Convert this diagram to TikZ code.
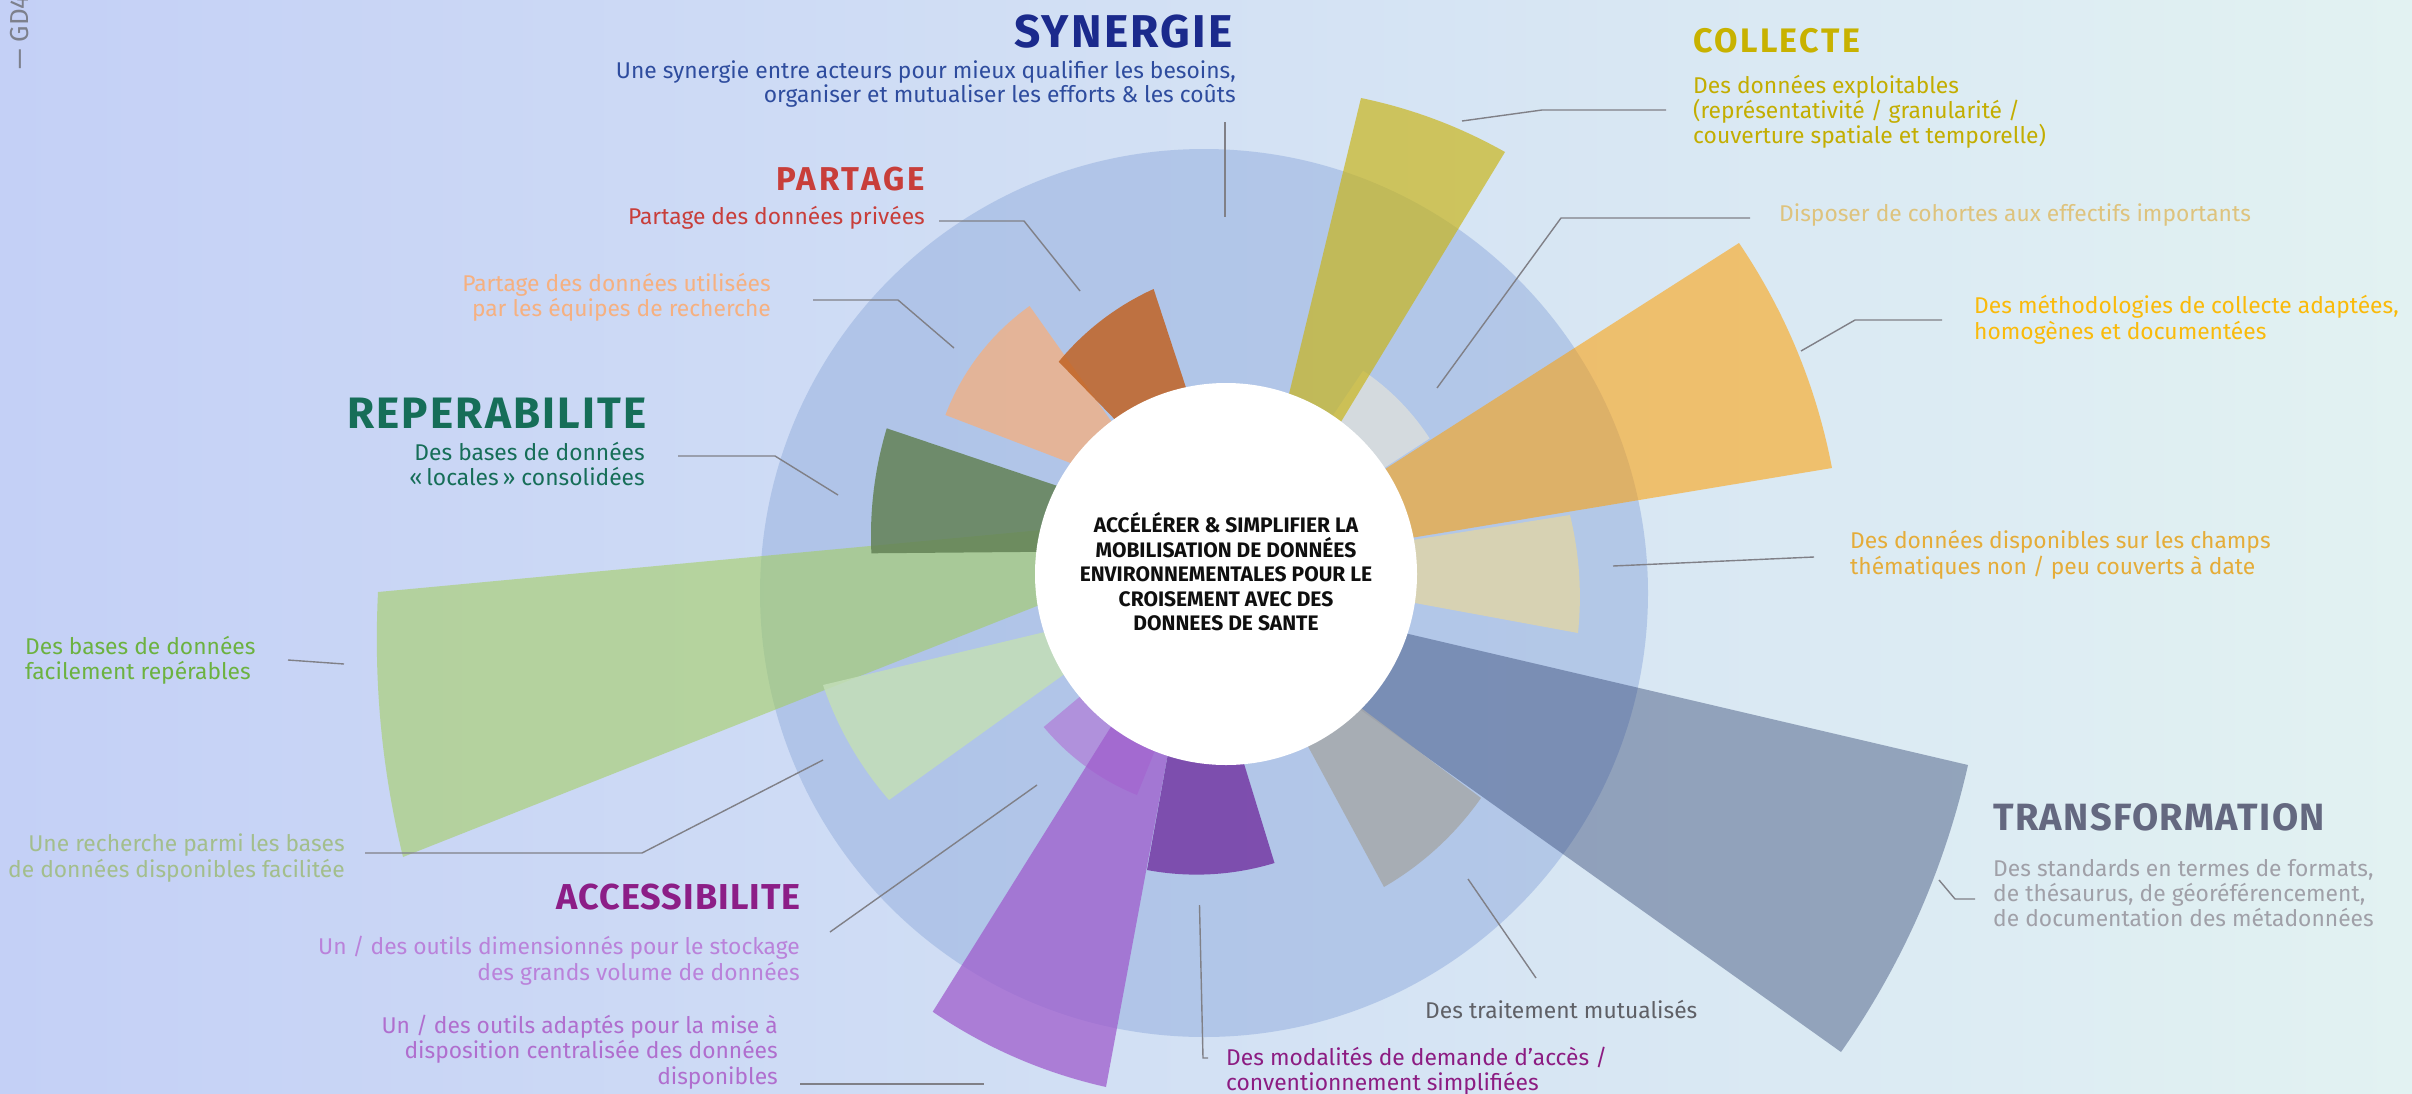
\documentclass[tikz,border=0pt]{standalone}
\usepackage{fontspec}
\setmainfont{Fira Sans}
\definecolor{bgL}{RGB}{196,208,246}
\definecolor{bgR}{RGB}{226,242,242}
\definecolor{discC}{RGB}{160,184,226}
\definecolor{cYel}{RGB}{201,180,20}
\definecolor{cLGray}{RGB}{218,222,221}
\definecolor{cOra}{RGB}{255,160,5}
\definecolor{cBei}{RGB}{222,212,170}
\definecolor{cSla}{RGB}{37,57,105}
\definecolor{cGra}{RGB}{166,169,171}
\definecolor{cDPur}{RGB}{117,58,165}
\definecolor{cBPur}{RGB}{159,93,205}
\definecolor{cLPur}{RGB}{176,136,218}
\definecolor{cPGre}{RGB}{195,222,183}
\definecolor{cBGre}{RGB}{162,206,88}
\definecolor{cDGre}{RGB}{99,130,86}
\definecolor{cPea}{RGB}{237,178,138}
\definecolor{cDOra}{RGB}{193,99,36}
\definecolor{tSyn}{RGB}{27,42,140}
\definecolor{tSynD}{RGB}{46,76,158}
\definecolor{tPar}{RGB}{200,62,58}
\definecolor{tPea}{RGB}{246,176,128}
\definecolor{tRep}{RGB}{22,110,88}
\definecolor{tBGre}{RGB}{108,178,64}
\definecolor{tRech}{RGB}{163,190,140}
\definecolor{tAcc}{RGB}{140,30,135}
\definecolor{tSto}{RGB}{186,130,218}
\definecolor{tMise}{RGB}{176,110,206}
\definecolor{tMod}{RGB}{140,28,130}
\definecolor{tTrt}{RGB}{95,96,102}
\definecolor{tTra}{RGB}{100,104,128}
\definecolor{tTraD}{RGB}{160,160,168}
\definecolor{tCha}{RGB}{229,172,56}
\definecolor{tMet}{RGB}{250,186,10}
\definecolor{tCoh}{RGB}{222,195,125}
\definecolor{tCol}{RGB}{200,178,0}
\definecolor{tColD}{RGB}{195,173,0}
\definecolor{leadC}{RGB}{128,128,135}
\definecolor{gdC}{RGB}{125,128,140}
\newcommand{\petal}[5]{\fill[#5] (#1) -- (#2) to[bend right=#4, looseness=0.87] (#3) -- cycle;}
\begin{document}
\begin{tikzpicture}[x=1pt,y=-1pt,
  lab/.style={inner sep=0pt, font=\fontsize{22.8}{25}\selectfont},
  ttl/.style 2 args={inner sep=0pt, font=\fontsize{#1}{#1}\selectfont\bfseries\addfontfeature{LetterSpace=#2}},
  ctr/.style={inner sep=0pt, anchor=base, font=\fontsize{21}{24}\selectfont\bfseries, text={rgb,255:red,15;green,15;blue,15}},
  lead/.style={draw=leadC, line width=1.4pt}]
\useasboundingbox (0,0) rectangle (2412,1093);
\shade[left color=bgL, right color=bgR] (0,0) rectangle (2412,1093);
% big disc
\fill[discC, fill opacity=0.65] (1204,593) circle[radius=444];
% petals
\petal{1230,568}{1429.6,438.4}{1363.1,370.7}{11.5}{cLGray, fill opacity=0.85}
\petal{1243,583}{1505,152}{1361,98}{8.8}{cYel, fill opacity=0.67}
\petal{1230,568}{1832,468}{1739,243}{11.6}{cOra, fill opacity=0.56}
\petal{1230,569}{1578,633}{1570,515}{9.7}{cBei, fill opacity=0.85}
\petal{1178,580}{1841,1052}{1968,765}{11.1}{cSla, fill opacity=0.4}
\petal{1237,615}{1384,887}{1481,798}{12.3}{cGra, fill opacity=0.85}
\petal{1287,507}{378,592}{403,857}{8.2}{cBGre, fill opacity=0.55}
\petal{1247,550}{886.7,428.3}{871.4,553.3}{9.6}{cDGre, fill opacity=0.85}
\petal{1162,604}{823,685}{889,800}{11}{cPGre, fill opacity=0.85}
\petal{1167,500}{1029.6,306}{945.4,415}{16.9}{cPea, fill opacity=0.85}
\petal{1238,546}{1153.6,289}{1058.7,361.7}{13}{cDOra, fill opacity=0.85}
\petal{1226,574}{1043.7,727}{1137,795}{14}{cLPur, fill opacity=0.85}
\petal{1199,586}{932.7,1011.7}{1106,1087}{10.75}{cBPur, fill opacity=0.75}
\petal{1195,604}{1147,870}{1274.5,863}{13.7}{cDPur, fill opacity=0.85}
% white centre
\node[circle, fill=white, minimum size=382pt, inner sep=0pt] (core) at (1226,574) {};
\node[ctr] (c1) at (1226,532) {ACCÉLÉRER \& SIMPLIFIER LA};
\node[ctr] (c2) at (1226,557) {MOBILISATION DE DONNÉES};
\node[ctr] (c3) at (1226,581) {ENVIRONNEMENTALES POUR LE};
\node[ctr] (c4) at (1226,606) {CROISEMENT AVEC DES};
\node[ctr] (c5) at (1226,630) {DONNEES DE SANTE};
% leader coordinates
\coordinate (a1) at (1225,122); \coordinate (a2) at (1225,217);
\coordinate (b1) at (939,221); \coordinate (b2) at (1024,221); \coordinate (b3) at (1080,291);
\coordinate (d1) at (813,300); \coordinate (d2) at (898,300); \coordinate (d3) at (954,348);
\coordinate (e1) at (1462,121); \coordinate (e2) at (1542,110); \coordinate (e3) at (1666,110);
\coordinate (f1) at (1437,388); \coordinate (f2) at (1561,218); \coordinate (f3) at (1750,218);
\coordinate (g1) at (1801,351); \coordinate (g2) at (1855,320); \coordinate (g3) at (1942,320);
\coordinate (h1) at (1613,566); \coordinate (h2) at (1814,557);
\coordinate (i1) at (1939,880); \coordinate (i2) at (1955,899); \coordinate (i3) at (1975,899);
\coordinate (j1) at (1468,879); \coordinate (j2) at (1536,978);
\coordinate (k1) at (1199.5,905); \coordinate (k2) at (1203,1058); \coordinate (k3) at (1208,1058);
\coordinate (l1) at (800,1084); \coordinate (l2) at (984,1084);
\coordinate (m1) at (830,932); \coordinate (m2) at (1037,785);
\coordinate (n1) at (365,853); \coordinate (n2) at (642,853); \coordinate (n3) at (823,760);
\coordinate (o1) at (288,660); \coordinate (o2) at (344,664);
\coordinate (p1) at (678,456); \coordinate (p2) at (775,456); \coordinate (p3) at (838,495);
\draw[lead] (a1) -- (a2);
\draw[lead] (b1) -- (b2) -- (b3);
\draw[lead] (d1) -- (d2) -- (d3);
\draw[lead] (e1) -- (e2) -- (e3);
\draw[lead] (f1) -- (f2) -- (f3);
\draw[lead] (g1) -- (g2) -- (g3);
\draw[lead] (h1) -- (h2);
\draw[lead] (i1) -- (i2) -- (i3);
\draw[lead] (j1) -- (j2);
\draw[lead] (k1) -- (k2) -- (k3);
\draw[lead] (l1) -- (l2);
\draw[lead] (m1) -- (m2);
\draw[lead] (n1) -- (n2) -- (n3);
\draw[lead] (o1) -- (o2);
\draw[lead] (p1) -- (p2) -- (p3);
% texts
\node[ttl={46}{5}, anchor=base east, text=tSyn] (syn) at (1233,47) {SYNERGIE};
\node[lab, anchor=base east, text=tSynD] (syn1) at (1236,78) {Une synergie entre acteurs pour mieux qualifier les besoins,};
\node[lab, anchor=base east, text=tSynD] (syn2) at (1236,102) {organiser et mutualiser les efforts \& les coûts};
\node[ttl={33}{9}, anchor=base east, text=tPar] (par) at (925,190) {PARTAGE};
\node[lab, anchor=base east, text=tPar] (par1) at (925,224) {Partage des données privées};
\node[lab, anchor=base east, text=tPea] (pea1) at (771,291) {Partage des données utilisées};
\node[lab, anchor=base east, text=tPea] (pea2) at (771,316) {par les équipes de recherche};
\node[ttl={44}{5}, anchor=base east, text=tRep] (rep) at (647,428) {REPERABILITE};
\node[lab, anchor=base east, text=tRep] (rep1) at (645,460) {Des bases de données};
\node[lab, anchor=base east, text=tRep] (rep2) at (645,485) {«\,locales\,» consolidées};
\node[lab, anchor=base west, text=tBGre] (bg1) at (25,654) {Des bases de données};
\node[lab, anchor=base west, text=tBGre] (bg2) at (25,679) {facilement repérables};
\node[lab, anchor=base east, text=tRech] (rc1) at (345,851) {Une recherche parmi les bases};
\node[lab, anchor=base east, text=tRech] (rc2) at (345,877) {de données disponibles facilitée};
\node[ttl={36}{3}, anchor=base east, text=tAcc] (acc) at (801,909) {ACCESSIBILITE};
\node[lab, anchor=base east, text=tSto] (st1) at (800,954) {Un / des outils dimensionnés pour le stockage};
\node[lab, anchor=base east, text=tSto] (st2) at (800,980) {des grands volume de données};
\node[lab, anchor=base east, text=tMise] (mi1) at (778,1033) {Un / des outils adaptés pour la mise à};
\node[lab, anchor=base east, text=tMise] (mi2) at (778,1058) {disposition centralisée des données};
\node[lab, anchor=base east, text=tMise] (mi3) at (778,1084) {disponibles};
\node[lab, anchor=base west, text=tMod] (mo1) at (1226,1065) {Des modalités de demande d’accès /};
\node[lab, anchor=base west, text=tMod] (mo2) at (1226,1090) {conventionnement simplifiées};
\node[lab, anchor=base west, text=tTrt] (trt) at (1425,1018) {Des traitement mutualisés};
\node[ttl={38}{3.5}, anchor=base west, text=tTra] (tra) at (1993,830) {TRANSFORMATION};
\node[lab, anchor=base west, text=tTraD] (tr1) at (1993,876) {Des standards en termes de formats,};
\node[lab, anchor=base west, text=tTraD] (tr2) at (1993,901) {de thésaurus, de géoréférencement,};
\node[lab, anchor=base west, text=tTraD] (tr3) at (1993,926) {de documentation des métadonnées};
\node[lab, anchor=base west, text=tCha] (ch1) at (1850,548) {Des données disponibles sur les champs};
\node[lab, anchor=base west, text=tCha] (ch2) at (1850,574) {thématiques non / peu couverts à date};
\node[lab, anchor=base west, text=tMet] (me1) at (1974,313) {Des méthodologies de collecte adaptées,};
\node[lab, anchor=base west, text=tMet] (me2) at (1974,339) {homogènes et documentées};
\node[lab, anchor=base west, text=tCoh] (coh) at (1779,221) {Disposer de cohortes aux effectifs importants};
\node[ttl={34}{7}, anchor=base west, text=tCol] (col) at (1693,52) {COLLECTE};
\node[lab, anchor=base west, text=tColD] (co1) at (1693,93) {Des données exploitables};
\node[lab, anchor=base west, text=tColD] (co2) at (1693,118) {(représentativité / granularité /};
\node[lab, anchor=base west, text=tColD] (co3) at (1693,143) {couverture spatiale et temporelle)};
\node[inner sep=0pt, rotate=90, anchor=base west, text=gdC, font=\fontsize{26}{26}\selectfont] (gd) at (28,70) {— GD4};
\end{tikzpicture}
\end{document}
